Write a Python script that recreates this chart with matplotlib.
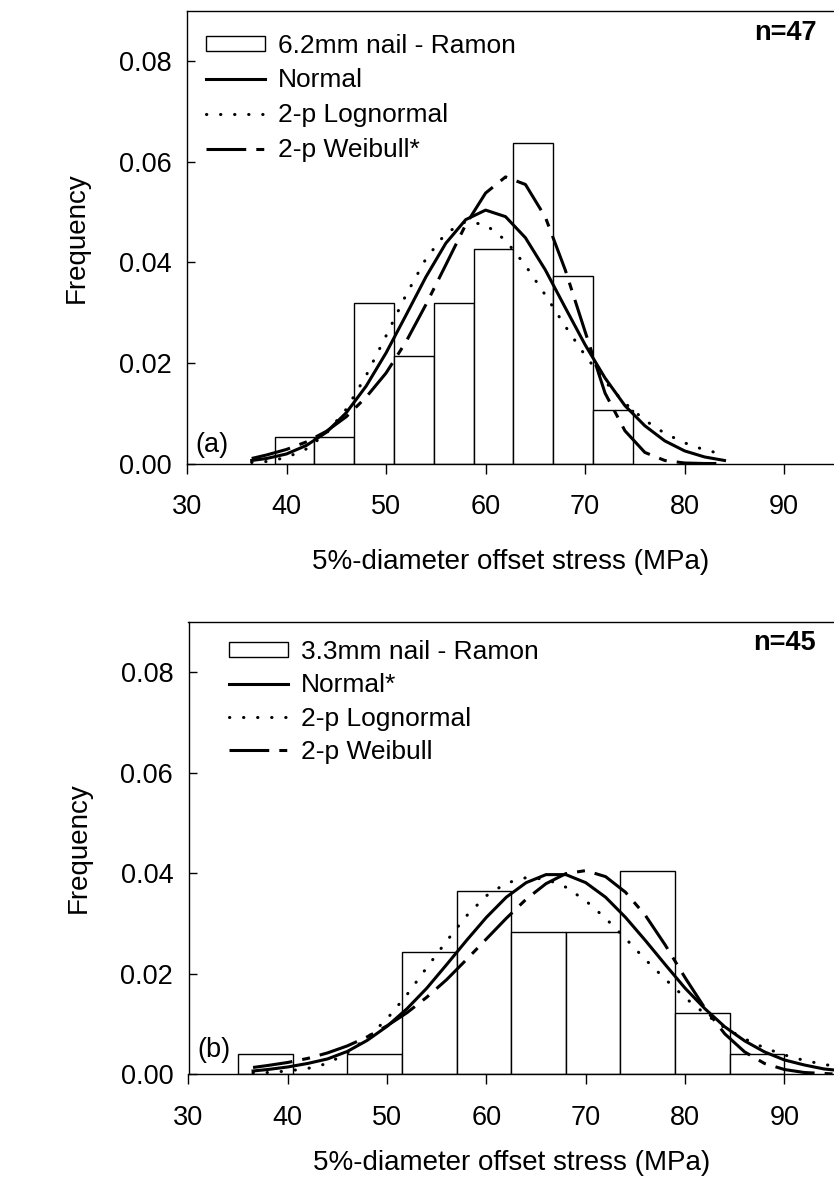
#!/usr/bin/env python3
"""Frequency histograms of 5%-diameter offset stress with fitted pdfs (normal, lognormal, Weibull)."""

import matplotlib
matplotlib.use("Agg", force=True)

import matplotlib.pyplot as plt
from matplotlib.lines import Line2D
from matplotlib.patches import Patch
from matplotlib.ticker import FormatStrFormatter

# ---- panel (a): 6.2mm nail, n=47
a_edges = [38.8, 42.8, 46.8, 50.8, 54.8, 58.8, 62.8, 66.8, 70.8, 74.8]
a_freq = [0.0053, 0.0053, 0.0319, 0.0213, 0.0319, 0.0426, 0.0638, 0.0372, 0.0106]

a_x = [36.5, 38, 40, 42, 44, 46, 48, 50, 52, 54, 56, 58, 60,
       62, 64, 66, 68, 70, 72, 74, 76, 78, 80, 82, 84]
a_normal = [0.0006, 0.0010, 0.0019, 0.0036, 0.0062, 0.0101, 0.0154, 0.0220, 0.0295,
            0.0371, 0.0438, 0.0485, 0.0504, 0.0491, 0.0449, 0.0385, 0.0310, 0.0236,
            0.0170, 0.0115, 0.0075, 0.0045, 0.0025, 0.0013, 0.0006]
a_lognormal = [0.0002, 0.0004, 0.0012, 0.0029, 0.0060, 0.0108, 0.0175, 0.0254, 0.0335,
               0.0407, 0.0458, 0.0481, 0.0475, 0.0444, 0.0394, 0.0335, 0.0273, 0.0215,
               0.0163, 0.0120, 0.0086, 0.0060, 0.0041, 0.0027, 0.0018]
a_weibull = [0.0010, 0.0017, 0.0028, 0.0043, 0.0064, 0.0093, 0.0132, 0.0180, 0.0242,
             0.0316, 0.0395, 0.0475, 0.0538, 0.0570, 0.0555, 0.0490, 0.0385, 0.0262,
             0.0140, 0.0065, 0.0022, 0.0006, 0.0001, 0.0, 0.0]
a_labels = ["6.2mm nail - Ramon", "Normal", "2-p Lognormal", "2-p Weibull*"]

# ---- panel (b): 3.3mm nail, n=45
b_edges = [35.0, 40.5, 46.0, 51.5, 57.0, 62.5, 68.0, 73.5, 79.0, 84.5, 90.0]
b_freq = [0.0040, 0.0, 0.0040, 0.0242, 0.0364, 0.0283, 0.0283, 0.0404, 0.0121, 0.0040]

b_x = [36.5, 38, 40, 42, 44, 46, 48, 50, 52, 54, 56, 58, 60, 62, 64, 66,
       68, 70, 72, 74, 76, 78, 80, 82, 84, 86, 88, 90, 92, 94, 95]
b_normal = [0.0006, 0.0009, 0.0014, 0.0021, 0.0030, 0.0045, 0.0067, 0.0095, 0.0130,
            0.0171, 0.0218, 0.0266, 0.0312, 0.0352, 0.0381, 0.0397, 0.0397, 0.0381,
            0.0352, 0.0312, 0.0266, 0.0218, 0.0171, 0.0130, 0.0094, 0.0066, 0.0044,
            0.0028, 0.0018, 0.0010, 0.0008]
b_lognormal = [0.0002, 0.0003, 0.0006, 0.0011, 0.0021, 0.0042, 0.0072, 0.0110, 0.0158,
               0.0212, 0.0265, 0.0315, 0.0355, 0.0380, 0.0391, 0.0388, 0.0372, 0.0345,
               0.0310, 0.0270, 0.0228, 0.0189, 0.0152, 0.0120, 0.0092, 0.0070, 0.0052,
               0.0038, 0.0027, 0.0019, 0.0016]
b_weibull = [0.0013, 0.0017, 0.0023, 0.0031, 0.0042, 0.0056, 0.0074, 0.0096, 0.0122,
             0.0153, 0.0188, 0.0228, 0.0269, 0.0310, 0.0348, 0.0379, 0.0399, 0.0405,
             0.0393, 0.0362, 0.0316, 0.0257, 0.0192, 0.0131, 0.0080, 0.0044, 0.0021,
             0.0009, 0.0003, 0.0001, 0.0]
b_labels = ["3.3mm nail - Ramon", "Normal*", "2-p Lognormal", "2-p Weibull"]

x_ticks = [30, 40, 50, 60, 70, 80, 90]
y_ticks = [0.00, 0.02, 0.04, 0.06, 0.08]

LW = 2.2
SOLID = dict(color="black", lw=LW, linestyle="-")
DOTTED = dict(color="black", lw=LW, linestyle=(0, (0.1, 4.5)), dash_capstyle="round")
DASHED = dict(color="black", lw=LW, linestyle=(0, (13, 3.3, 2.6, 3.3)))


def draw_panel(ax, edges, freq, x, normal, lognormal, weibull, labels,
               n_text, tag, legend_anchor, legend_spacing, n_pos, tag_pos, xlabelpad):
    widths = [edges[i + 1] - edges[i] for i in range(len(freq))]
    ax.bar(edges[:-1], freq, width=widths, align="edge",
           facecolor="white", edgecolor="black", linewidth=1.0, zorder=1)

    ax.plot(x, normal, zorder=3, **SOLID)
    ax.plot(x, lognormal, zorder=3, **DOTTED)
    ax.plot(x, weibull, zorder=3, **DASHED)

    ax.set_xlim(30, 95)
    ax.set_ylim(0, 0.09)
    ax.set_xticks(x_ticks)
    ax.set_yticks(y_ticks)
    ax.yaxis.set_major_formatter(FormatStrFormatter("%.2f"))

    ax.spines["right"].set_visible(False)
    for side in ("left", "top", "bottom"):
        ax.spines[side].set_linewidth(1.0)

    ax.tick_params(axis="x", direction="out", length=7, width=1.0, pad=15,
                   labelsize=19.5, top=False)
    ax.tick_params(axis="y", direction="in", length=6, width=1.0, pad=11,
                   labelsize=19.5, right=False)

    ax.set_xlabel("5%-diameter offset stress (MPa)", fontsize=20, labelpad=xlabelpad)
    ax.set_ylabel("Frequency", fontsize=20, labelpad=21)

    handles = [
        Patch(facecolor="white", edgecolor="black", linewidth=1.0),
        Line2D([], [], **SOLID),
        Line2D([], [], **DOTTED),
        Line2D([], [], **DASHED),
    ]
    ax.legend(handles, labels, loc="upper left", bbox_to_anchor=legend_anchor,
              frameon=False, fontsize=19, handlelength=2.23, handleheight=0.5,
              handletextpad=0.5, labelspacing=legend_spacing,
              borderpad=0, borderaxespad=0)

    ax.text(n_pos[0], n_pos[1], n_text, transform=ax.transAxes,
            ha="right", va="center", fontsize=19.5, fontweight="bold")
    ax.text(tag_pos[0], tag_pos[1], tag, transform=ax.transAxes,
            ha="left", va="center", fontsize=19.5)


def main():
    plt.rcParams["font.family"] = ["Liberation Sans", "DejaVu Sans"]

    fig = plt.figure(figsize=(8.34, 11.88), dpi=100)
    W, H = 834.0, 1188.0

    # axes boxes in pixels: left, top, bottom (right edge at figure edge)
    ax_a = fig.add_axes([187 / W, 1 - 463.5 / H, 1 - 187 / W, 452.5 / H])
    ax_b = fig.add_axes([188.5 / W, 1 - 1074 / H, 1 - 188.5 / W, 452 / H])

    draw_panel(ax_a, a_edges, a_freq, a_x, a_normal, a_lognormal, a_weibull, a_labels,
               "n=47", "(a)", legend_anchor=(0.0294, 0.950), legend_spacing=0.41,
               n_pos=(0.974, 0.951), tag_pos=(0.013, 0.04), xlabelpad=21)
    draw_panel(ax_b, b_edges, b_freq, b_x, b_normal, b_lognormal, b_weibull, b_labels,
               "n=45", "(b)", legend_anchor=(0.063, 0.960), legend_spacing=0.35,
               n_pos=(0.972, 0.954), tag_pos=(0.013, 0.053), xlabelpad=14)

    fig.savefig("out.png", dpi=100)
    plt.close(fig)
    return 0


if __name__ == "__main__":
    raise SystemExit(main())
